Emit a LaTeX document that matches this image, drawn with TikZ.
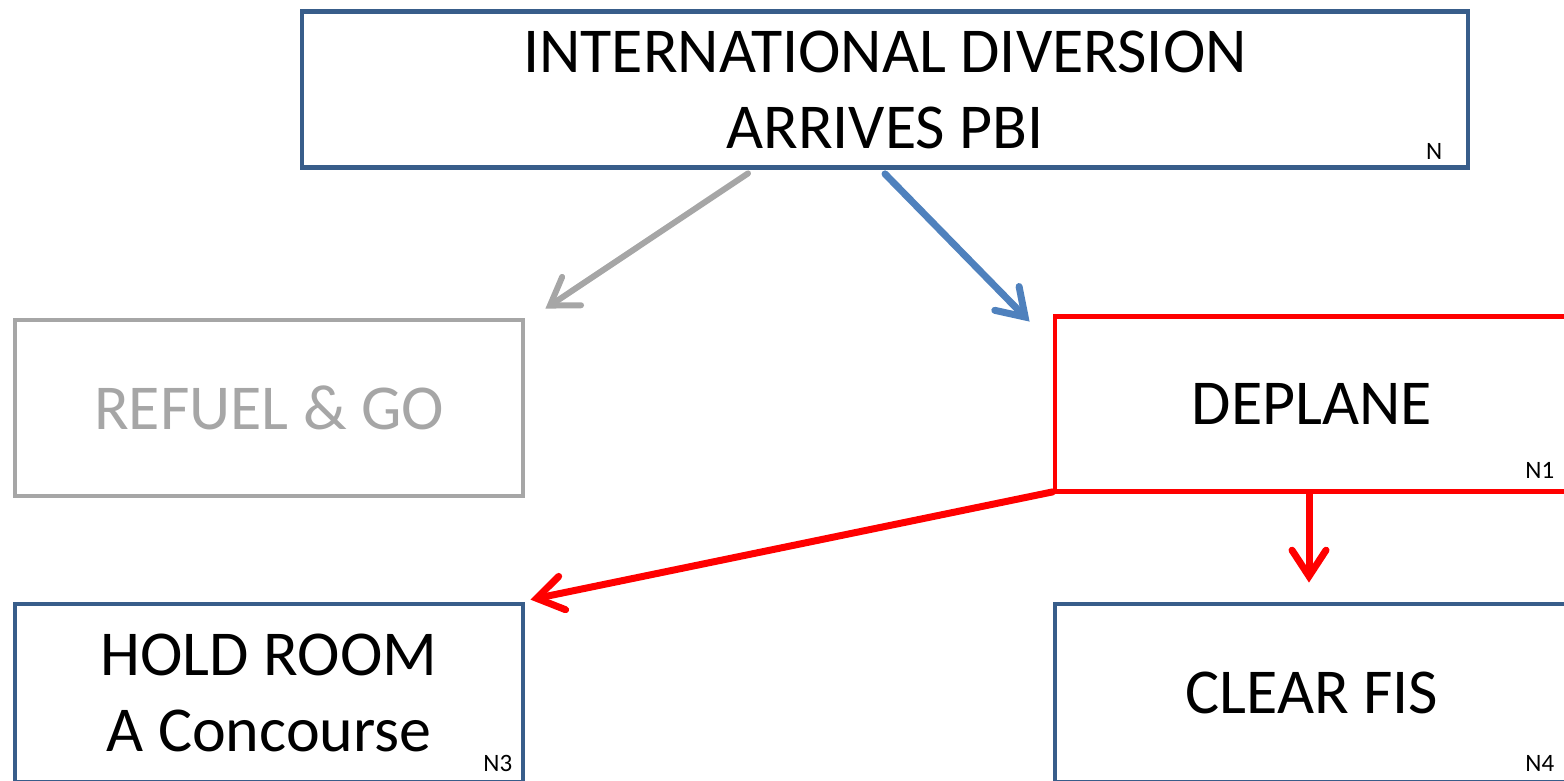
\documentclass[tikz,border=0pt]{standalone}
\usepackage{fontspec}
\setmainfont{Carlito}
\usetikzlibrary{arrows.meta, positioning}

\definecolor{boxblue}{HTML}{385D8A}
\definecolor{linkblue}{HTML}{4F81BD}
\definecolor{softgray}{HTML}{A6A6A6}

\tikzset{
    box/.style = {draw=boxblue, line width=4.8pt, inner sep=0pt, align=center,
                  font=\fontsize{64}{76}\selectfont},
    tag/.style = {inner sep=0pt, anchor=base east, font=\fontsize{25}{30}\selectfont},
    link/.style = {line width=7pt, line cap=round,
                   -{Straight Barb[length=26pt, width=34pt, line cap=round]}}
}

\begin{document}
\begin{tikzpicture}[x=1pt, y=-1pt]
    \useasboundingbox (0,0) rectangle (1564,781);
    \clip (0,0) rectangle (1564,781);

    % boxes
    \node (top) [box, minimum width=1166pt, minimum height=156pt] at (885,89.5)
        {INTERNATIONAL DIVERSION\\ARRIVES PBI};
    \node (refuel) [box, draw=softgray, text=softgray, minimum width=508pt, minimum height=176pt] at (269,408)
        {REFUEL \& GO};
    \node (deplane) [box, draw=red, minimum width=514pt, minimum height=175pt] at (1312,404)
        {DEPLANE};
    \node (hold) [box, minimum width=508pt, minimum height=178pt] at (269,693)
        {HOLD ROOM\\A Concourse};
    \node (fis) [box, minimum width=514pt, minimum height=178pt] at (1312,693)
        {CLEAR FIS};

    % small tags
    \node (n0) [tag] at ([xshift=-28pt, yshift=10pt]top.south east) {N};
    \node (n1) [tag] at ([xshift=-17pt, yshift=15pt]deplane.south east) {N1};
    \node (n3) [tag] at ([xshift=-13pt, yshift=13pt]hold.south east) {N3};
    \node (n4) [tag] at ([xshift=-17pt, yshift=13pt]fis.south east) {N4};

    % connectors
    \path [link]
        ([xshift=-137pt, yshift=-3.5pt]top.south) edge [softgray, line width=6pt]
            ([xshift=20pt, yshift=9pt]refuel.north east)
        ([yshift=-4pt]top.south) edge [linkblue]
            ([xshift=-23pt, yshift=-7.5pt]deplane.north west)
        ([yshift=2pt]deplane.south west) edge [red]
            ([xshift=5pt, yshift=2pt]hold.north east)
        ([xshift=-3pt]deplane.south) edge [red]
            ([xshift=-3pt, yshift=19pt]fis.north);
\end{tikzpicture}
\end{document}
